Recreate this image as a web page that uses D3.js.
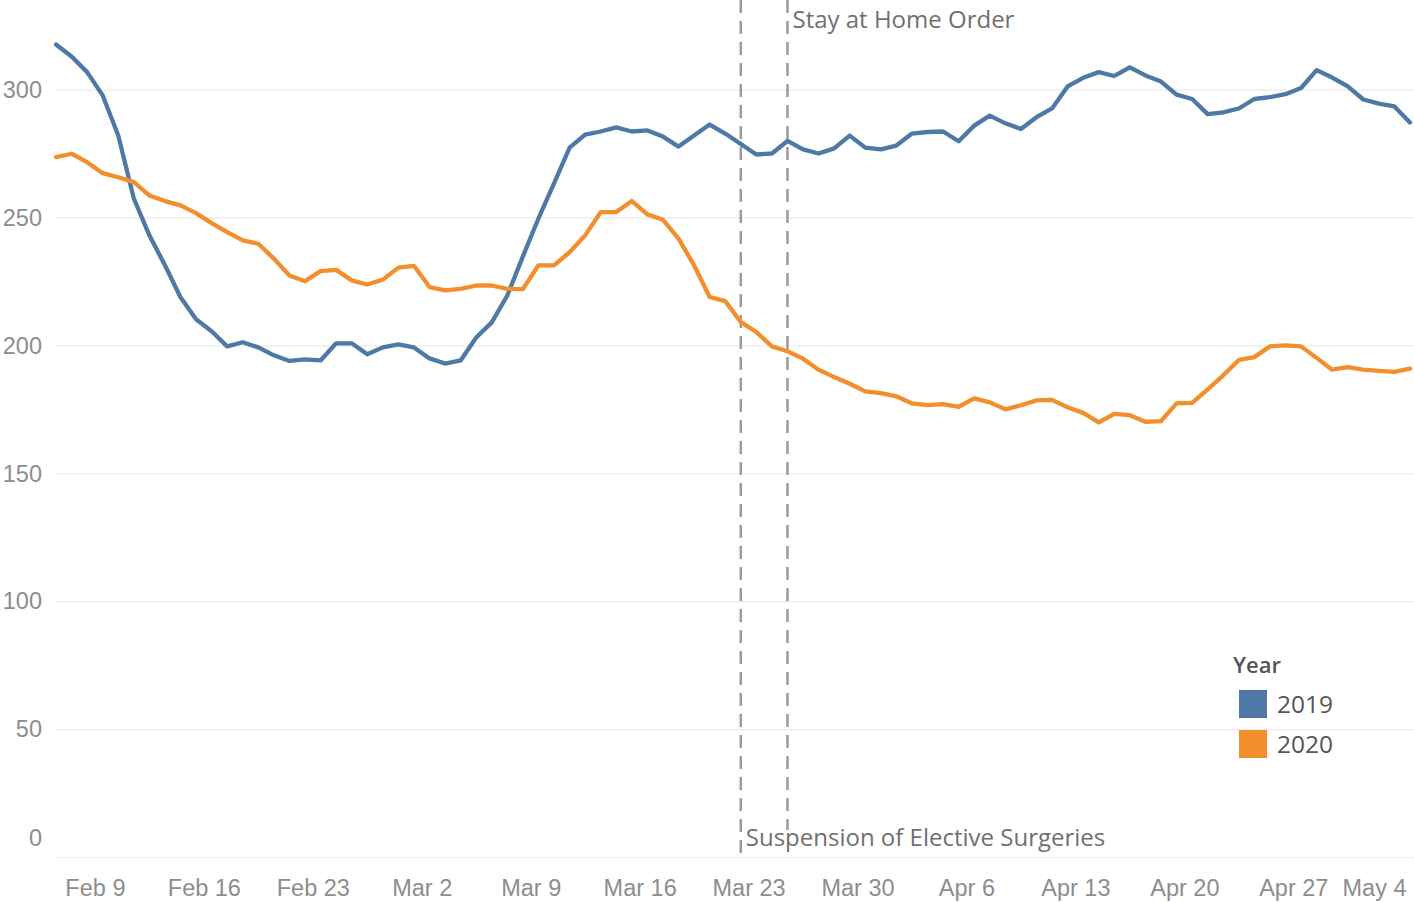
<!DOCTYPE html>
<html>
<head>
<meta charset="utf-8">
<script src="https://cdn.jsdelivr.net/npm/d3@7"></script>
<style>
	body { margin: 0; background: #fff; }
	svg { display: block; font-family: "Open Sans", sans-serif; }
	.grid line { stroke: #ececec; stroke-width: 1.2; }
	.axis text { fill: #8d8d8d; font-size: 23.5px; }
	.series { fill: none; stroke-width: 4.3; stroke-linejoin: round; stroke-linecap: round; }
	.refline { stroke: #9b9b9b; stroke-width: 2.5; stroke-dasharray: 13 8; }
	.ref-text { fill: #707070; font-size: 24px; }
	.legend text { fill: #555; }
</style>
</head>
<body>
<svg width="1414" height="902"></svg>
<script>
// daily values, Feb 7 .. May 5 (axis uses the 2019 calendar)
const firstDay = '2019-02-07'
const lastDay = '2019-05-05'

const values2019 = [
	317.6, 312.9, 306.8, 297.7, 282.0, 257.4, 243.0, 231.3, 218.8, 210.2,
	205.5, 199.6, 201.2, 199.2, 196.1, 193.9, 194.5, 194.1, 200.8, 200.8,
	196.5, 199.2, 200.4, 199.2, 194.9, 192.9, 194.1, 203.1, 209.0, 219.5,
	234.8, 249.6, 263.3, 277.3, 282.4, 283.6, 285.2, 283.6, 284.0, 281.6,
	277.7, 282.0, 286.3, 282.8, 278.7, 274.6, 275.0, 279.9, 276.6, 275.0,
	277.0, 282.0, 277.3, 276.6, 278.1, 282.8, 283.4, 283.6, 279.8, 285.9,
	289.8, 286.8, 284.6, 289.2, 292.6, 301.2, 304.6, 306.8, 305.3, 308.7,
	305.5, 303.1, 298.0, 296.3, 290.4, 291.1, 292.6, 296.3, 297.0, 298.2,
	300.6, 307.6, 304.7, 301.2, 296.1, 294.5, 293.4, 287.1
]

const values2020 = [
	273.6, 274.9, 271.6, 267.3, 265.7, 263.8, 258.6, 256.4, 254.7, 251.7,
	247.8, 244.3, 241.0, 239.7, 233.9, 227.3, 225.1, 229.0, 229.5, 225.4,
	223.8, 225.7, 230.4, 231.1, 222.8, 221.5, 222.1, 223.4, 223.4, 222.1,
	222.0, 231.3, 231.3, 236.4, 243.0, 252.1, 252.1, 256.4, 251.2, 249.1,
	241.7, 231.3, 218.9, 217.3, 209.1, 205.2, 199.6, 197.7, 194.8, 190.5,
	187.6, 185.0, 182.0, 181.3, 180.1, 177.3, 176.6, 177.0, 176.0, 179.3,
	177.7, 175.0, 176.6, 178.5, 178.7, 175.8, 173.6, 169.9, 173.2, 172.7,
	170.1, 170.4, 177.3, 177.5, 182.8, 188.3, 194.3, 195.4, 199.6, 200.0,
	199.6, 195.1, 190.5, 191.5, 190.5, 190.0, 189.6, 190.9
]

const years = ['2019', '2020']
const colors = ['#4e79a7', '#f28e2b']
const yTicks = [0, 50, 100, 150, 200, 250, 300]

const events = [
	{date: '2019-03-23', label: 'Suspension of Elective Surgeries', at: 'bottom'},
	{date: '2019-03-26', label: 'Stay at Home Order', at: 'top'},
]

const W = 1414, H = 902
const plot = {left: 55, right: 1414, top: 0, bottom: 857}

const parse = d3.utcParse('%Y-%m-%d')
const dates = d3.utcDay.range(parse(firstDay), d3.utcDay.offset(parse(lastDay), 1))
const series = [values2019, values2020]

const x = d3.scaleUtc()
	.domain([dates[0], dates[dates.length - 1]])
	.range([56, 1410])
const y = d3.scaleLinear()
	.domain([0, 335])
	.range([plot.bottom, plot.top])

const halfDay = (x(dates[1]) - x(dates[0])) / 2

const svg = d3.select('svg')

// gridlines
svg.append('g')
	.attr('class', 'grid')
	.attr('transform', `translate(${plot.left},0)`)
	.call(d3.axisRight(y).tickValues(yTicks).tickSize(plot.right - plot.left).tickFormat(''))
	.call(g => g.select('.domain').remove())

// y axis labels
const yAxis = svg.append('g')
	.attr('class', 'axis')
	.attr('transform', 'translate(42,0)')
	.call(d3.axisLeft(y).tickValues(yTicks).tickSize(0).tickPadding(0))
	.call(g => g.select('.domain').remove())
yAxis.selectAll('text')
	.attr('font-family', null)
	.attr('dy', d => d === 0 ? '-0.5em' : '0.33em')

// x axis, labels sit in the middle of the day
const xTicks = d3.utcSaturday.range(parse('2019-02-09'), d3.utcDay.offset(dates[dates.length - 1], 1))
const xAxis = svg.append('g')
	.attr('class', 'axis')
	.attr('transform', `translate(${halfDay},${plot.bottom})`)
	.call(d3.axisBottom(x).tickValues(xTicks).tickSize(0).tickPadding(39).tickFormat(d3.utcFormat('%b %-d')))
	.call(g => g.select('.domain').remove())
xAxis.selectAll('text').attr('font-family', null).attr('dy', 0)
// keep the last label inside the view
xAxis.selectAll('.tick').each(function (d) {
	const t = d3.select(this).select('text')
	const box = t.node().getBBox()
	const right = x(d) + halfDay + box.width / 2
	if (right > W - 8) t.attr('dx', (W - 8 - right) + 'px')
})

// reference lines
events.forEach(ev => {
	const ex = x(parse(ev.date))
	svg.append('line')
		.attr('class', 'refline')
		.attr('x1', ex).attr('x2', ex)
		.attr('y1', plot.top).attr('y2', plot.bottom)
})

// series
series.forEach((vals, i) => {
	svg.append('path')
		.datum(vals)
		.attr('class', 'series')
		.attr('stroke', colors[i])
		.attr('d', d3.line().x((d, j) => x(dates[j])).y(d => y(d)))
})

// reference labels (white box, like Tableau)
events.forEach(ev => {
	const ex = x(parse(ev.date))
	const g = svg.append('g')
	const bg = g.append('rect').attr('fill', '#fff')
	const t = g.append('text')
		.attr('class', 'ref-text')
		.attr('x', ex + 5)
		.attr('y', ev.at === 'top' ? 28 : 846)
		.text(ev.label)
	const b = t.node().getBBox()
	bg.attr('x', b.x - 2).attr('y', b.y + 10).attr('width', b.width + 4).attr('height', b.height - 10)
})

// legend
const legend = svg.append('g').attr('class', 'legend')
legend.append('text')
	.attr('x', 1233).attr('y', 673)
	.attr('font-size', 22).attr('font-weight', 600)
	.text('Year')
years.forEach((yr, i) => {
	legend.append('rect')
		.attr('x', 1239).attr('y', 690 + i * 40)
		.attr('width', 28).attr('height', 28)
		.attr('fill', colors[i])
	legend.append('text')
		.attr('x', 1277).attr('y', 713 + i * 40)
		.attr('font-size', 24.5)
		.text(yr)
})
</script>
</body>
</html>
